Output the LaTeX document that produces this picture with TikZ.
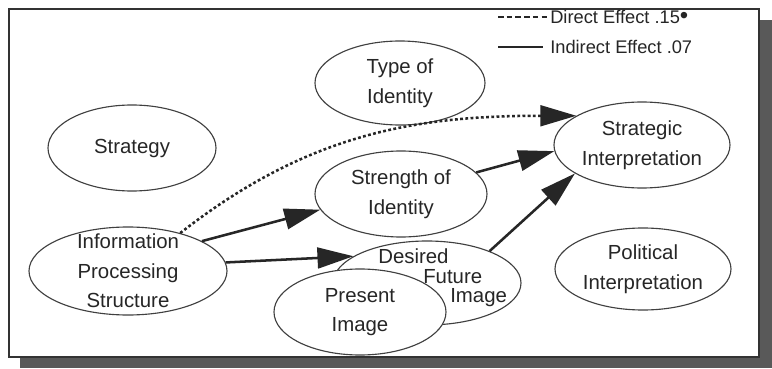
\documentclass[tikz,border=0pt]{standalone}
\usepackage{fontspec}
\setmainfont{Liberation Sans}
\usetikzlibrary{shapes.geometric}
\usetikzlibrary{arrows.meta}

\begin{document}
\begin{tikzpicture}[
  oval/.style={ellipse, draw=black!75, line width=.8pt, inner sep=0pt, align=center, text=black!85, font=\fontsize{14.5}{21}\selectfont},
  effect/.style={black!85, line width=1.8pt, -{Triangle[length=9mm,width=5.2mm]}},
  legend/.style={anchor=west, inner sep=0pt, text=black!85, font=\fontsize{13}{15}\selectfont}
]
\useasboundingbox (0,0) rectangle (19.3,9.2);
\fill[black!65] (0.5,0) rectangle (19.3,8.7);
\draw[black!80, line width=1.8pt, fill=white] (0.225,0.275) rectangle (18.975,8.975);

\node[oval, minimum width=4.2cm, minimum height=2.15cm] (strategy) at (3.3,5.5) {Strategy};
\node[oval, minimum width=4.25cm, minimum height=2.1cm] (typeid) at (10,7.125) {Type of\\Identity};
\node[oval, minimum width=4.4cm, minimum height=2.15cm] (strategic) at (16.05,5.575) {Strategic\\Interpretation};
\node[oval, minimum width=4.3cm, minimum height=2.15cm] (strength) at (10.025,4.35) {Strength of\\Identity};
\node[oval, minimum width=4.95cm, minimum height=2.2cm, inner ysep=-7pt] (info) at (3.2,2.425) {Information\\Processing\\Structure};
\node[oval, minimum width=4.7cm, minimum height=2.1cm] (desired) at (10.675,2.125) {};
\node[oval, fill=white, minimum width=4.3cm, minimum height=2.15cm] (present) at (9,1.4) {Present\\Image};
\node[anchor=west, inner sep=0pt, align=left, text=black!85, font=\fontsize{14.5}{14}\selectfont] (desiredlbl) at (9.45,2.25) {Desired\\\hspace*{1.125cm}Future\\\hspace*{1.8cm}Image};
\node[oval, minimum width=4.4cm, minimum height=2.05cm] (political) at (16.075,2.475) {Political\\Interpretation};

% legend
\node[legend] (direct) at (13.75,8.775) {Direct Effect .15\raisebox{.05ex}{\fontsize{17}{17}\selectfont\textbullet}};
\node[legend] (indirect) at (13.75,8.025) {Indirect Effect .07};
\coordinate (dkey) at (12.45,8.775);
\coordinate (ikey) at (12.45,8.025);
\draw[black!85, line width=.8pt, dash pattern=on 4pt off 2.2pt] (dkey) -- ([xshift=-2pt]direct.west);
\draw[black!85, line width=.8pt] (ikey) -- ([xshift=-5pt]indirect.west);

% effects
\draw[effect, dash pattern=on 2pt off 1.7pt] (info.36) to[out=38,in=180] (strategic.156);
\draw[effect] (info.22) -- (strength.191);
\draw[effect] (info.5) -- (desired.160);
\draw[effect] (strength.16) -- (strategic.184);
\draw[effect] (desired.27) -- (strategic.203);
\end{tikzpicture}
\end{document}
